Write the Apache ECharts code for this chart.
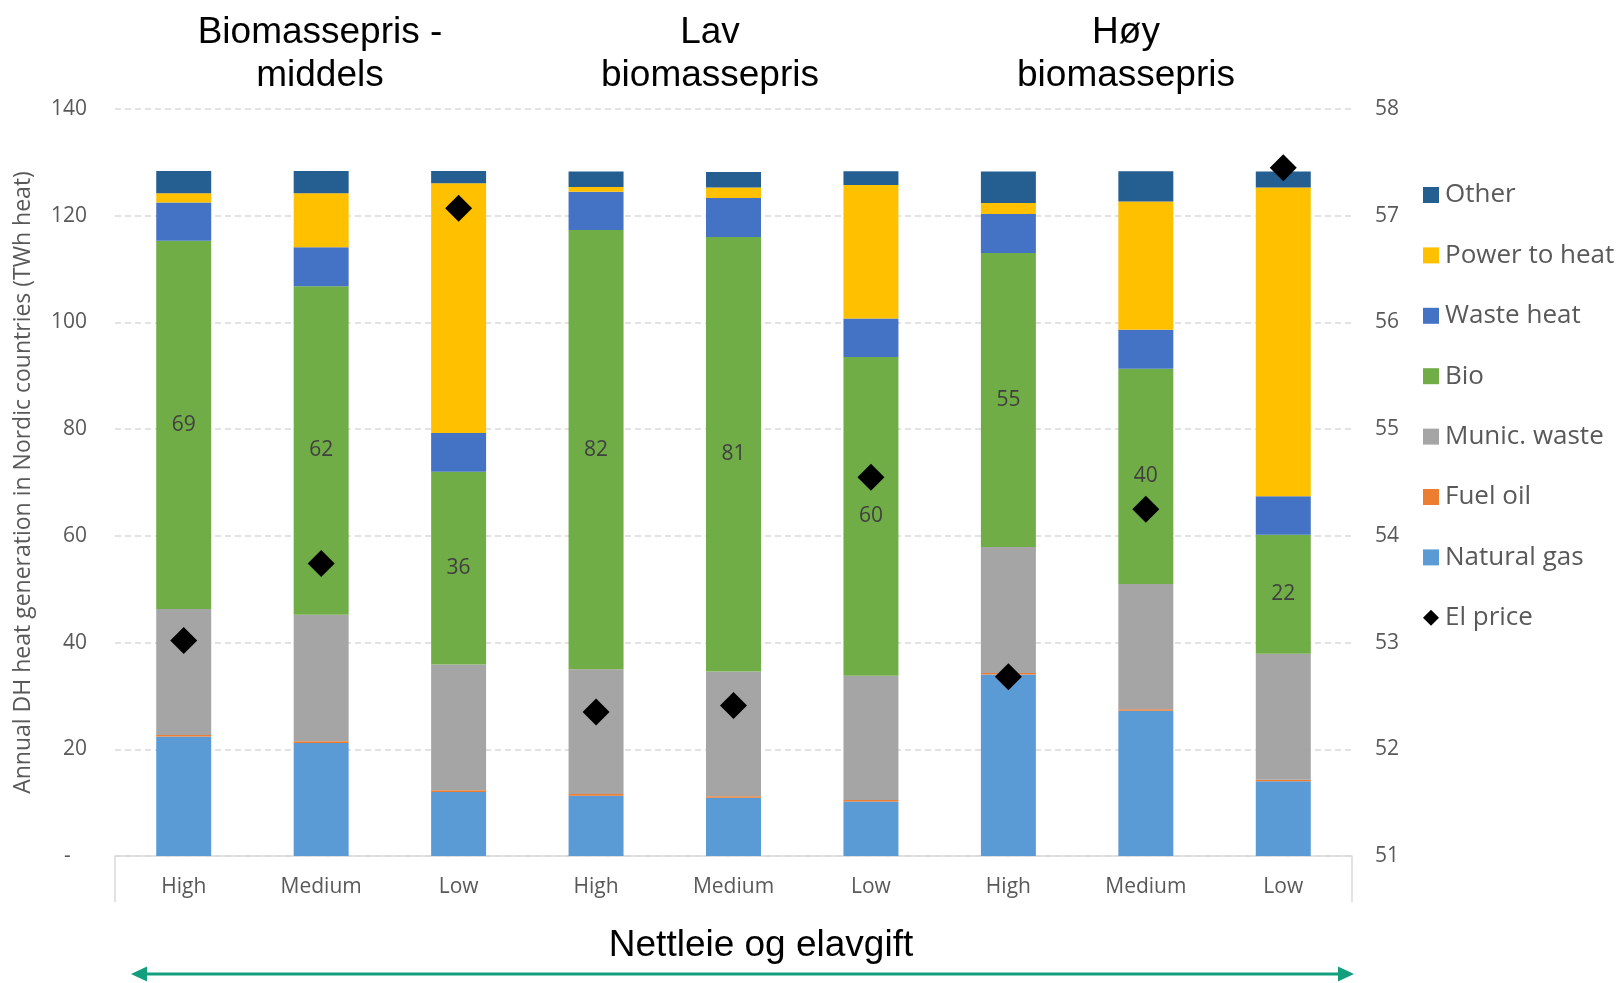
<!DOCTYPE html>
<html>
<head>
<meta charset="utf-8">
<script src="https://cdn.jsdelivr.net/npm/echarts@6/dist/echarts.min.js"></script>
<style>
html,body{margin:0;padding:0;background:#fff;}
#chart{width:1617px;height:983px;}
</style>
</head>
<body>
<div id="chart"></div>
<script>
const categories = ['High','Medium','Low','High','Medium','Low','High','Medium','Low'];
const naturalGas = [22.4, 21.2, 12.0, 11.3, 10.9, 10.2, 34.0, 27.2, 14.0];
const fuelOil = [0.3, 0.3, 0.3, 0.3, 0.3, 0.3, 0.3, 0.3, 0.3];
const municWaste = [23.6, 23.7, 23.6, 23.4, 23.4, 23.3, 23.6, 23.5, 23.6];
const bio = [69.0, 61.6, 36.1, 82.3, 81.4, 59.7, 55.1, 40.3, 22.3];
const wasteHeat = [7.2, 7.3, 7.3, 7.2, 7.3, 7.25, 7.3, 7.35, 7.2];
const powerToHeat = [1.7, 10.1, 46.8, 0.9, 2.0, 25.0, 2.1, 24.0, 57.9];
const other = [4.2, 4.2, 2.3, 2.9, 2.9, 2.6, 5.9, 5.7, 3.0];
const elPrice = [53.02, 53.74, 57.07, 52.35, 52.41, 54.55, 52.68, 54.25, 57.45];
const groupTitles = ['Biomassepris -\nmiddels', 'Lav\nbiomassepris', 'Høy\nbiomassepris'];
const bottomTitle = 'Nettleie og elavgift';
const leftTicks = {min: 0, max: 140, interval: 20};
const rightTicks = {min: 51, max: 58, interval: 1};

const FONT = '"Open Sans", sans-serif';
const TITLE_FONT = '37px "Liberation Sans", Arial, sans-serif';
const GRAY = '#595959';
const chart = echarts.init(document.getElementById('chart'));

function barSeries(name, data, color, withLabel) {
  return {
    name: name, type: 'bar', stack: 'total', data: data,
    barWidth: '40%',
    itemStyle: {color: color},
    label: withLabel ? {
      show: true, position: 'inside', color: '#404040',
      fontFamily: FONT, fontSize: 21,
      formatter: p => Math.round(p.value)
    } : {show: false},
    emphasis: {disabled: true}
  };
}

const arrowColor = '#129f7e';
const option = {
  animation: false,
  backgroundColor: '#ffffff',
  grid: {left: 115, right: 265, top: 109, bottom: 127, containLabel: false},
  legend: {
    orient: 'vertical', left: 1418, top: 177,
    itemWidth: 16, itemHeight: 16, itemGap: 34.4,
    textStyle: {fontFamily: FONT, fontSize: 26, color: GRAY, lineHeight: 26, padding: [0,0,0,1]},
    data: [
      {name: 'Other', icon: 'rect'},
      {name: 'Power to heat', icon: 'rect'},
      {name: 'Waste heat', icon: 'rect'},
      {name: 'Bio', icon: 'rect'},
      {name: 'Munic. waste', icon: 'rect'},
      {name: 'Fuel oil', icon: 'rect'},
      {name: 'Natural gas', icon: 'rect'},
      {name: 'El price', icon: 'diamond'}
    ]
  },
  xAxis: {
    type: 'category', data: categories,
    axisLine: {show: true, lineStyle: {color: '#d9d9d9', width: 1.5}},
    axisTick: {show: true, interval: (i) => i === 0, length: 46, lineStyle: {color: '#d9d9d9', width: 1.5}},
    axisLabel: {fontFamily: FONT, fontSize: 21, color: GRAY, margin: 21, interval: 0}
  },
  yAxis: [
    {
      type: 'value', min: leftTicks.min, max: leftTicks.max, interval: leftTicks.interval,
      name: 'Annual DH heat generation in Nordic countries (TWh heat)',
      nameLocation: 'middle', nameGap: 80, nameRotate: 90,
      nameTextStyle: {fontFamily: FONT, fontSize: 23, color: GRAY},
      axisLine: {show: false}, axisTick: {show: false},
      axisLabel: {fontFamily: FONT, fontSize: 21, color: GRAY, margin: 28,
        formatter: v => v === 0 ? '-   ' : String(v)},
      splitLine: {show: true, lineStyle: {color: '#d9d9d9', type: [6, 4], width: 1.5}}
    },
    {
      type: 'value', min: rightTicks.min, max: rightTicks.max, interval: rightTicks.interval,
      position: 'right',
      axisLine: {show: false}, axisTick: {show: false},
      axisLabel: {fontFamily: FONT, fontSize: 21, color: GRAY, margin: 23},
      splitLine: {show: false}
    }
  ],
  series: [
    barSeries('Natural gas', naturalGas, '#5B9BD5', false),
    barSeries('Fuel oil', fuelOil, '#ED7D31', false),
    barSeries('Munic. waste', municWaste, '#A5A5A5', false),
    barSeries('Bio', bio, '#70AD47', true),
    barSeries('Waste heat', wasteHeat, '#4472C4', false),
    barSeries('Power to heat', powerToHeat, '#FFC000', false),
    barSeries('Other', other, '#255E91', false),
    {
      name: 'El price', type: 'scatter', yAxisIndex: 1, data: elPrice,
      symbol: 'diamond', symbolSize: 27, z: 10,
      itemStyle: {color: '#000000', opacity: 1},
      emphasis: {disabled: true}
    }
  ],
  graphic: [
    {type: 'text', style: {text: groupTitles[0], fill: '#000', font: TITLE_FONT, textAlign: 'center', lineHeight: 43}, position: [320, 11]},
    {type: 'text', style: {text: groupTitles[1], fill: '#000', font: TITLE_FONT, textAlign: 'center', lineHeight: 43}, position: [710, 11]},
    {type: 'text', style: {text: groupTitles[2], fill: '#000', font: TITLE_FONT, textAlign: 'center', lineHeight: 43}, position: [1126, 11]},
    {type: 'text', style: {text: bottomTitle, fill: '#000', font: TITLE_FONT, textAlign: 'center', lineHeight: 43}, position: [761, 924]},
    {type: 'line', shape: {x1: 140, y1: 974, x2: 1345, y2: 974}, style: {stroke: arrowColor, lineWidth: 3}},
    {type: 'polygon', shape: {points: [[131, 974], [147, 966.5], [147, 981.5]]}, style: {fill: arrowColor}},
    {type: 'polygon', shape: {points: [[1354, 974], [1338, 966.5], [1338, 981.5]]}, style: {fill: arrowColor}}
  ]
};
chart.setOption(option);
</script>
</body>
</html>
